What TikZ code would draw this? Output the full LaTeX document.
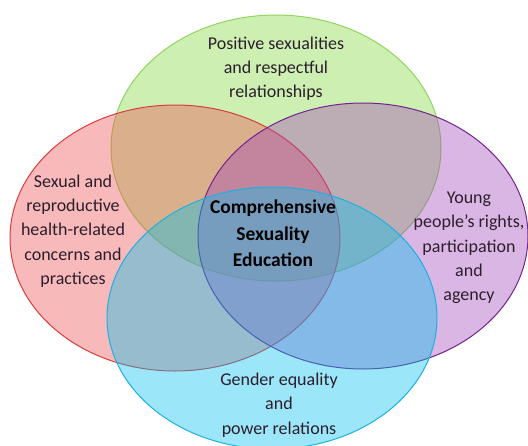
\documentclass[tikz,border=0pt]{standalone}
\usepackage{fontspec}
\setmainfont{Carlito}
\usetikzlibrary{shapes.geometric}
\definecolor{gfill}{RGB}{130,217,62}
\definecolor{gline}{RGB}{145,212,95}
\definecolor{rfill}{RGB}{235,80,80}
\definecolor{rline}{RGB}{218,60,60}
\definecolor{pfill}{RGB}{162,72,187}
\definecolor{pline}{RGB}{115,35,140}
\definecolor{bfill}{RGB}{5,192,237}
\definecolor{bline}{RGB}{30,175,225}
\definecolor{txt}{RGB}{45,30,45}
\tikzset{
  venn/.style={ellipse, inner sep=0pt, minimum width=330pt, minimum height=266pt, line width=1pt, fill opacity=0.4},
  lbl/.style={align=center, text=txt, font=\fontsize{18}{24.3}\selectfont, inner sep=0pt},
  ctr/.style={align=center, text=black, font=\bfseries\fontsize{19.5}{26.5}\selectfont, inner sep=0pt}
}
\begin{document}
\begin{tikzpicture}[x=1pt,y=-1pt]
\useasboundingbox (0,0) rectangle (528,445);
\node[venn, draw=gline, fill=gfill] (green) at (276,148) {};
\node[venn, draw=rline, fill=rfill] (red) at (175,238) {};
\node[venn, draw=pline, fill=pfill] (purple) at (363,236) {};
\node[venn, draw=bline, fill=bfill, minimum height=262pt] (blue) at (272,318) {};
\node[lbl] (tgreen) at (276,68.5) {Positive sexualities\\and respectful\\relationships};
\node[lbl] (tred) at (73,231) {Sexual and\\reproductive\\health-related\\concerns and\\practices};
\node[lbl] (tpurple) at (469,248) {Young\\people’s rights,\\participation\\and\\agency};
\node[lbl] (tblue) at (279,405) {Gender equality\\and\\power relations};
\node[ctr] (tcenter) at (273,233.5) {Comprehensive\\Sexuality\\Education};
\end{tikzpicture}
\end{document}
